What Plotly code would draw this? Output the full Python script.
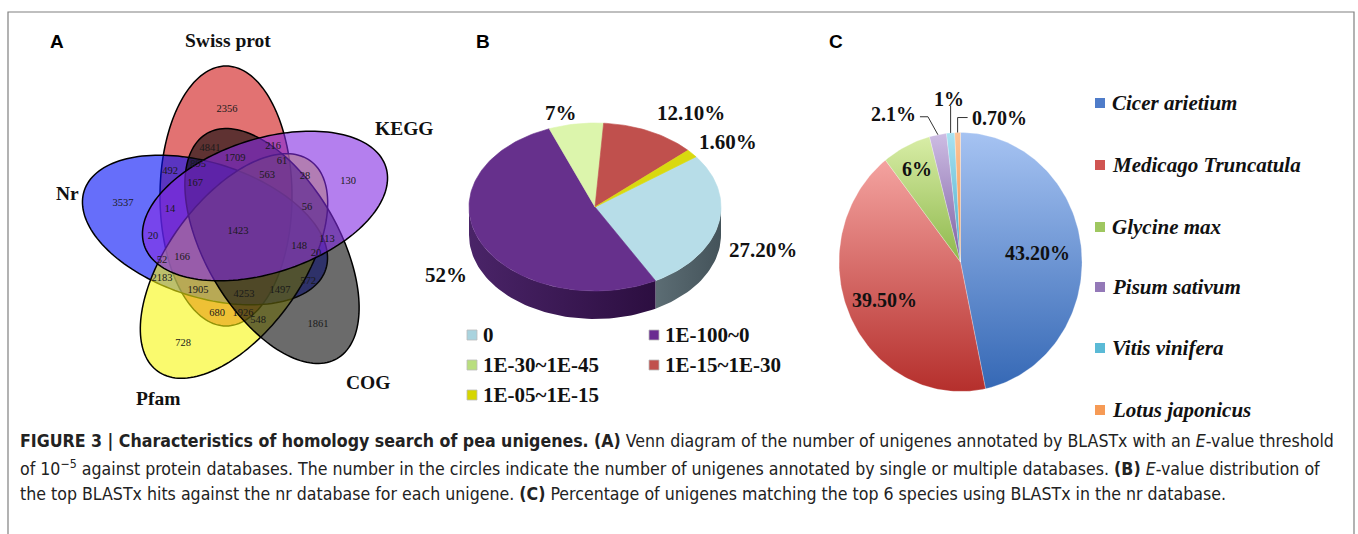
import math
import plotly.graph_objects as go

W, H = 1358, 534

# ---------------- data ----------------
venn_sets = ["Nr", "Swiss prot", "KEGG", "COG", "Pfam"]
venn_counts = [2356, 4841, 216, 1709, 61, 492, 895, 563, 28, 130, 167, 3537, 14, 56,
               1423, 20, 148, 113, 20, 52, 166, 2183, 1905, 4253, 1497, 572, 680,
               1926, 548, 1861, 728]

evalue_bins = ["0", "1E-100~0", "1E-30~1E-45", "1E-15~1E-30", "1E-05~1E-15"]
evalue_pct = [27.2, 52.0, 7.0, 12.1, 1.6]
evalue_text = ["27.20%", "52%", "7%", "12.10%", "1.60%"]

species = ["Cicer arietium", "Medicago Truncatula", "Glycine max",
           "Pisum sativum", "Vitis vinifera", "Lotus japonicus"]
species_pct = [43.2, 39.5, 6.0, 2.1, 1.0, 0.7]
species_text = ["43.20%", "39.50%", "6%", "2.1%", "1%", "0.70%"]

# ---------------- layout helpers ----------------
SERIF = "Liberation Serif"
SANS = "Liberation Sans"

fig = go.Figure()
shapes = []
annotations = []


def ann(x, y, text, size, family=SERIF, color="#111", xanchor="center", yanchor="middle"):
    annotations.append(dict(x=x, y=y, xref="x", yref="y", text=text, showarrow=False,
                            xanchor=xanchor, yanchor=yanchor,
                            font=dict(family=family, size=size, color=color)))


# ---------------- A: five-set Venn ----------------
# ellipse geometry: centre, semi-minor, semi-major, rotation (deg, clockwise on screen)
ellipses = {
    "Swiss prot": (226, 196, 66, 130, 90, "rgba(207,20,20,0.6)"),
    "Nr": (205, 230, 67, 127, 18, "rgba(0,13,247,0.6)"),
    "Pfam": (234, 266, 67, 130, 126, "rgba(247,247,13,0.6)"),
    "COG": (272, 246, 67, 130, 60, "rgba(8,8,8,0.6)"),
    "KEGG": (265, 206, 67, 127, -18, "rgba(130,42,227,0.6)"),
}


def ellipse_path(cx, cy, a, b, rot, n=160):
    th = math.radians(rot)
    parts = []
    for i in range(n):
        t = 2 * math.pi * i / n
        ex, ey = b * math.cos(t), a * math.sin(t)
        x = cx + ex * math.cos(th) - ey * math.sin(th)
        y = cy + ex * math.sin(th) + ey * math.cos(th)
        parts.append(("M" if i == 0 else "L") + f"{x:.2f},{y:.2f}")
    return " ".join(parts) + " Z"


for name, (cx, cy, a, b, rot, col) in ellipses.items():
    shapes.append(dict(type="path", path=ellipse_path(cx, cy, a, b, rot), xref="x", yref="y",
                       fillcolor=col, line=dict(color="#000", width=1.5), layer="below"))

venn_pos = [(227, 109), (210, 148), (273, 146), (235, 158), (282, 161), (170, 171),
            (198, 164), (267, 175), (305, 176), (348, 181), (195, 183), (123, 203),
            (170, 209), (307, 207), (238, 231), (153, 236), (299, 246), (327, 239),
            (316, 253), (162, 260), (182, 257), (162, 278), (198, 290), (244, 294),
            (280, 290), (308, 281), (217, 313), (243, 313), (258, 320), (318, 324),
            (183, 343)]
fig.add_trace(go.Scatter(x=[p[0] for p in venn_pos], y=[p[1] for p in venn_pos],
                         mode="text", text=[str(v) for v in venn_counts],
                         textfont=dict(family=SERIF, size=10.5, color="#1a1a1a"),
                         hoverinfo="skip"))

set_label_pos = {"Nr": (67, 193), "Swiss prot": (228, 40), "KEGG": (404, 128),
                 "COG": (368, 382), "Pfam": (158, 398)}
for name in venn_sets:
    x, y = set_label_pos[name]
    ann(x, y, f"<b>{name}</b>", 19.5)

# ---------------- B: 3-D E-value pie ----------------
B_CX, B_CY, B_RX, B_RY, B_DEPTH = 595, 207, 126, 84, 28
B_START = 53.3  # first slice angle, clockwise from 12 o'clock
b_top = ["#B7DDE8", "#66308C", "#DCF5AC", "#C0504D", "#D9D90F"]
b_side = [("#5C6D74", "#44535A"), ("#4A2468", "#2C0E40"), ("#7F9A58", "#6E8A48"),
          ("#6E2A28", "#5A2020"), ("#7A7A08", "#6A6A06")]


def ell_pt(cx, cy, rx, ry, deg):
    r = math.radians(deg)
    return cx + rx * math.sin(r), cy - ry * math.cos(r)


total_b = sum(evalue_pct)
bounds = []
acc = B_START
for v in evalue_pct:
    span = 360.0 * v / total_b
    bounds.append((acc, acc + span))
    acc += span

# side walls of the front half
for (t0, t1), (c1, c2) in zip(bounds, b_side):
    for off in (0, 360):
        lo, hi = max(t0, 90 + off), min(t1, 270 + off)
        if hi <= lo:
            continue
        n = max(4, int((hi - lo) / 2))
        top = [ell_pt(B_CX, B_CY, B_RX, B_RY, lo + (hi - lo) * i / n) for i in range(n + 1)]
        bot = [(x, y + B_DEPTH) for x, y in reversed(top)]
        pts = top + bot + [top[0]]
        fig.add_trace(go.Scatter(x=[p[0] for p in pts], y=[p[1] for p in pts], fill="toself",
                                 mode="lines", line=dict(width=0),
                                 fillgradient=dict(type="horizontal",
                                                   colorscale=[[0, c1], [1, c2]]),
                                 hoverinfo="skip"))

# top faces
for (t0, t1), col in zip(bounds, b_top):
    n = max(3, int((t1 - t0) / 1.5))
    pts = [(B_CX, B_CY)] + [ell_pt(B_CX, B_CY, B_RX, B_RY, t0 + (t1 - t0) * i / n)
                            for i in range(n + 1)] + [(B_CX, B_CY)]
    fig.add_trace(go.Scatter(x=[p[0] for p in pts], y=[p[1] for p in pts], fill="toself",
                             mode="lines", line=dict(width=0.6, color=col), fillcolor=col,
                             hoverinfo="skip"))

b_nudge = [(5, -9), (2, -7), (-9, 16), (24, 6), (5, 6)]
for (t0, t1), txt, (dx, dy) in zip(bounds, evalue_text, b_nudge):
    mid = (t0 + t1) / 2
    x, y = ell_pt(B_CX, B_CY, B_RX * 1.32, B_RY * 1.32, mid)
    if math.cos(math.radians(mid)) < 0:
        y += B_DEPTH
    ann(x + dx, y + dy, f"<b>{txt}</b>", 21)

# legend for B
b_leg_x = [472, 654, 472, 654, 472]
b_leg_y = [335, 335, 365, 365, 395]
b_mark = ["#A9D3DE", "#6A2C91", "#B9DE7E", "#C0504D", "#D6D600"]
fig.add_trace(go.Scatter(x=b_leg_x, y=b_leg_y, mode="markers",
                         marker=dict(symbol="square", size=10, color=b_mark,
                                     line=dict(width=0.8, color="#BBBBBB")),
                         hoverinfo="skip"))
for x, y, lab in zip(b_leg_x, b_leg_y, evalue_bins):
    ann(x + 9, y, f"<b>{lab}</b>", 21, xanchor="left")

# ---------------- C: species pie ----------------
C_CX, C_CY, C_RX, C_RY = 960.5, 262, 121.5, 129.5
# (dark, light) pairs: the y axis runs downward, so the scale starts at the bottom
c_grad = [("#3568B5", "#A6C3F2"), ("#B52F2C", "#F4A3A0"), ("#8EB84C", "#D8EDA6"),
          ("#7D60A3", "#CDBCE3"), ("#46A8C6", "#A8E2F2"), ("#F28C3C", "#FCC59A")]
c_mark = ["#4F7CC9", "#D05552", "#9FC760", "#9479B8", "#5BBAD6", "#F69A55"]
total_c = sum(species_pct)
c_bounds = []
acc = 0.0
for v in species_pct:
    span = 360.0 * v / total_c
    c_bounds.append((acc, acc + span))
    acc += span

for (t0, t1), (c1, c2) in zip(c_bounds, c_grad):
    n = max(3, int((t1 - t0) / 1.5))
    pts = [(C_CX, C_CY)] + [ell_pt(C_CX, C_CY, C_RX, C_RY, t0 + (t1 - t0) * i / n)
                            for i in range(n + 1)] + [(C_CX, C_CY)]
    fig.add_trace(go.Scatter(x=[p[0] for p in pts], y=[p[1] for p in pts], fill="toself",
                             mode="lines", line=dict(width=0.5, color="rgba(255,255,255,0.5)"),
                             fillgradient=dict(type="vertical", colorscale=[[0, c1], [1, c2]]),
                             hoverinfo="skip"))

# inside labels for the three large slices
for (t0, t1), txt, k in zip(c_bounds[:3], species_text[:3], [0.64, 0.69, 0.80]):
    x, y = ell_pt(C_CX, C_CY, C_RX * k, C_RY * k, (t0 + t1) / 2)
    ann(x, y, f"<b>{txt}</b>", 20)

# outside labels with leader lines for the three thin slices
leader_bends = [[(-10, -18), (-18, -18)], [(0, -27)], [(0, -15), (10, -15)]]
label_off = [(-2, -3), (-2, -7), (2, 0)]
label_anchor = ["right", "center", "left"]
for (t0, t1), txt, bends, (lx, ly), xa in zip(c_bounds[3:], species_text[3:], leader_bends,
                                              label_off, label_anchor):
    ex, ey = ell_pt(C_CX, C_CY, C_RX, C_RY, (t0 + t1) / 2)
    xs = [ex] + [ex + bx for bx, by in bends]
    ys = [ey] + [ey + by for bx, by in bends]
    fig.add_trace(go.Scatter(x=xs, y=ys, mode="lines", line=dict(color="#333", width=1),
                             hoverinfo="skip"))
    ann(xs[-1] + lx, ys[-1] + ly, f"<b>{txt}</b>", 20, xanchor=xa)

# legend for C
c_leg_y = [103, 165, 227, 287, 348, 410]
fig.add_trace(go.Scatter(x=[1100] * len(species), y=c_leg_y, mode="markers",
                         marker=dict(symbol="square", size=10, color=c_mark,
                                     line=dict(width=0)),
                         hoverinfo="skip"))
for y, sp in zip(c_leg_y, species):
    ann(1110, y, f"<b><i>{sp}</i></b>", 21, xanchor="left")

# ---------------- panel letters ----------------
for x, letter in [(57, "A"), (483, "B"), (836, "C")]:
    ann(x, 41, f"<b>{letter}</b>", 19, family=SANS, color="#000")

# ---------------- caption ----------------
CAP = "DejaVu Sans Condensed"
cap_lines = [
    "<b>FIGURE 3 | Characteristics of homology search of pea unigenes. (A)</b> Venn diagram of the number "
    "of unigenes annotated by BLASTx with an <i>E</i>-value threshold",
    "of 10<sup>\u22125</sup> against protein databases. The number in the circles indicate the number of "
    "unigenes annotated by single or multiple databases. <b>(B)</b> <i>E</i>-value distribution of",
    "the top BLASTx hits against the nr database for each unigene. <b>(C)</b> Percentage of unigenes "
    "matching the top 6 species using BLASTx in the nr database.",
]
for y, line in zip([441, 468, 494], cap_lines):
    ann(18, y, line, 17.6, family=CAP, color="#222", xanchor="left")

# frame
shapes.append(dict(type="path", path="M8,540 L8,12 L1354,12 L1354,540", xref="x", yref="y",
                   line=dict(color="#808080", width=1.2), layer="above"))

fig.update_layout(
    width=W, height=H, margin=dict(l=0, r=0, t=0, b=0),
    paper_bgcolor="white", plot_bgcolor="white", showlegend=False,
    xaxis=dict(range=[0, W], visible=False, fixedrange=True),
    yaxis=dict(range=[H, 0], visible=False, fixedrange=True),
    shapes=shapes, annotations=annotations,
)
fig.write_html("out.html")
